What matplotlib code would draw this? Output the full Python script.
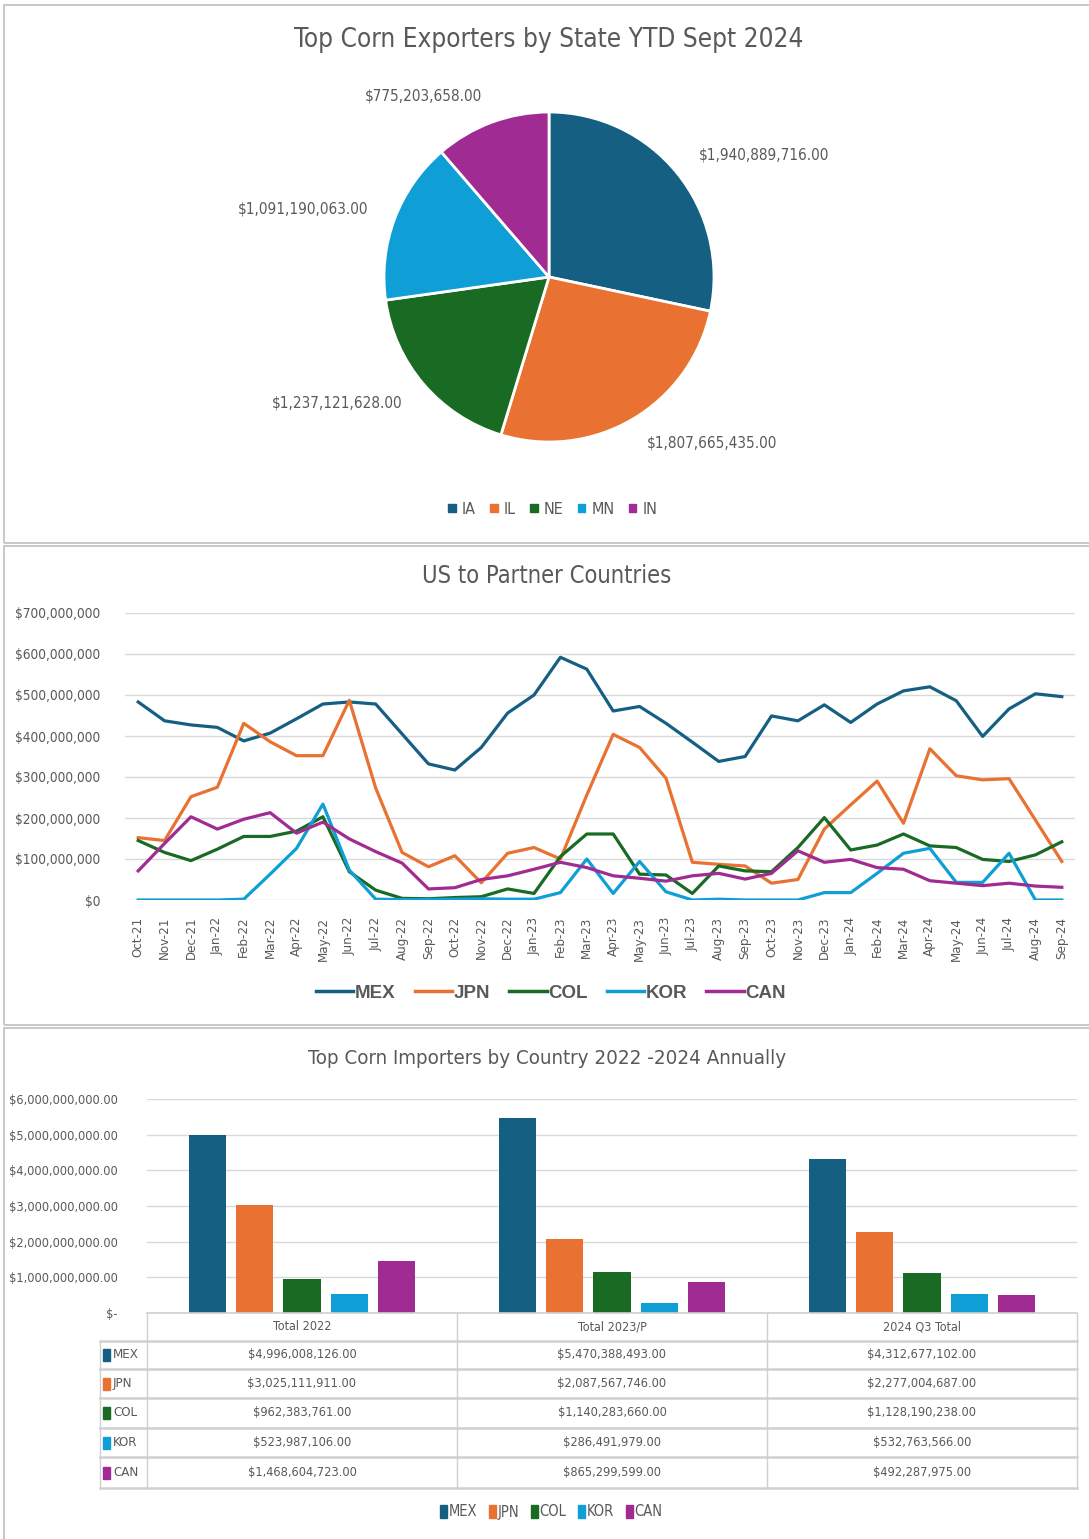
import matplotlib
matplotlib.use('Agg')
import matplotlib.pyplot as plt
import matplotlib.transforms as mtransforms
from matplotlib import font_manager
from matplotlib.patches import Rectangle
from matplotlib.lines import Line2D
from matplotlib.ticker import FuncFormatter

# ------------------------------------------
# dados
# ------------------------------------------
states = ['IA', 'IL', 'NE', 'MN', 'IN']
state_exports = [1940889716.00, 1807665435.00, 1237121628.00, 1091190063.00, 775203658.00]

months = ['Oct-21', 'Nov-21', 'Dec-21', 'Jan-22', 'Feb-22', 'Mar-22', 'Apr-22', 'May-22',
          'Jun-22', 'Jul-22', 'Aug-22', 'Sep-22', 'Oct-22', 'Nov-22', 'Dec-22', 'Jan-23',
          'Feb-23', 'Mar-23', 'Apr-23', 'May-23', 'Jun-23', 'Jul-23', 'Aug-23', 'Sep-23',
          'Oct-23', 'Nov-23', 'Dec-23', 'Jan-24', 'Feb-24', 'Mar-24', 'Apr-24', 'May-24',
          'Jun-24', 'Jul-24', 'Aug-24', 'Sep-24']
# milhoes de dolares
mex = [483, 437, 427, 421, 388, 407, 442, 478, 483, 478, 405, 332, 317, 372, 456, 500,
       592, 563, 461, 472, 431, 385, 338, 350, 449, 437, 476, 433, 478, 510, 520, 486,
       399, 466, 503, 496]
jpn = [152, 145, 252, 275, 431, 386, 352, 352, 487, 273, 116, 81, 108, 42, 114, 128,
       100, 256, 404, 372, 297, 92, 87, 83, 41, 50, 173, 232, 290, 187, 369, 303,
       293, 296, 195, 94]
col = [145, 116, 96, 124, 155, 155, 168, 203, 69, 24, 4, 3, 6, 8, 27, 16,
       106, 161, 161, 63, 61, 16, 83, 71, 69, 128, 201, 122, 134, 161, 132, 128,
       99, 94, 110, 142]
kor = [0, 0, 0, 0, 2, 63, 126, 234, 73, 2, 1, 1, 2, 3, 2, 2,
       18, 100, 16, 94, 20, 0, 2, 0, 0, 0, 18, 18, 65, 114, 126, 43,
       43, 114, 0, 0]
can = [71, 138, 203, 173, 197, 213, 163, 190, 149, 118, 90, 27, 30, 50, 59, 75,
       92, 79, 59, 53, 46, 59, 65, 51, 65, 120, 92, 99, 79, 75, 47, 41,
       35, 41, 34, 31]

countries = ['MEX', 'JPN', 'COL', 'KOR', 'CAN']
periods = ['Total 2022', 'Total 2023/P', '2024 Q3 Total']
imports_2022 = [4996008126.00, 3025111911.00, 962383761.00, 523987106.00, 1468604723.00]
imports_2023 = [5470388493.00, 2087567746.00, 1140283660.00, 286491979.00, 865299599.00]
imports_2024 = [4312677102.00, 2277004687.00, 1128190238.00, 532763566.00, 492287975.00]

# ------------------------------------------
# estilo
# ------------------------------------------
cores = ['#156082', '#E97132', '#196B24', '#0F9ED5', '#A02B93']
CINZA = '#595959'
GRADE = '#D9D9D9'
W, H = 1089, 1539

# fonte estreita (Arial Narrow no original) - usa a condensada se existir
tem_cond = any(f.name == 'DejaVu Sans' and f.stretch == 'condensed'
               for f in font_manager.fontManager.ttflist)
if tem_cond:
    NARROW = ['DejaVu Sans']
    plt.rcParams['font.stretch'] = 'condensed'
    ESC = 1.0
else:
    NARROW = ['Liberation Sans', 'DejaVu Sans']
    ESC = 0.85

plt.rcParams['font.family'] = NARROW
plt.rcParams['text.color'] = CINZA

fig = plt.figure(figsize=(W / 100, H / 100), dpi=100)


def fx(px):
    return px / W


def fy(py):
    return 1 - py / H


# molduras dos paineis
for top, bot in [(5, 543), (546, 1025), (1028, 1545)]:
    fig.add_artist(Rectangle((fx(4), fy(bot)), fx(1100), (bot - top) / H, fill=False,
                             edgecolor='#C4C4C4', linewidth=1.3, transform=fig.transFigure))

# ==========================================
# 1. PIZZA
# ==========================================
ax1 = fig.add_axes([fx(549 - 170), fy(277 + 170), 340 / W, 340 / H])
rotulos = [f"${v:,.2f}" for v in state_exports]
ax1.pie(state_exports, colors=cores, startangle=90, counterclock=False, radius=1,
        labels=rotulos, labeldistance=1.17,
        wedgeprops=dict(edgecolor='white', linewidth=2),
        textprops=dict(color=CINZA, fontsize=11 * ESC))
ax1.set_xlim(-170 / 165, 170 / 165)
ax1.set_ylim(-170 / 165, 170 / 165)
fig.text(fx(549), fy(40), 'Top Corn Exporters by State YTD Sept 2024', ha='center', va='center',
         fontsize=18.8 * ESC, color=CINZA)
h1 = [Rectangle((0, 0), 1, 1, color=c) for c in cores]
fig.legend(h1, states, loc='center', bbox_to_anchor=(fx(553), fy(509)), ncol=5, frameon=False,
           fontsize=11.5 * ESC, handlelength=0.45, handleheight=0.45, handletextpad=0.4,
           columnspacing=0.9, labelcolor=CINZA)

# ==========================================
# 2. LINHAS
# ==========================================
ax2 = fig.add_axes([fx(125), fy(900), 950 / W, 287 / H])
x = range(len(months))
for serie, nome, c in zip([mex, jpn, col, kor, can], countries, cores):
    ax2.plot(x, [v * 1e6 for v in serie], color=c, linewidth=2.3, label=nome)
ax2.set_xlim(-0.5, len(months) - 0.5)
ax2.set_ylim(0, 700e6)
ax2.set_yticks([i * 100e6 for i in range(8)])
ax2.yaxis.set_major_formatter(FuncFormatter(lambda v, p: f"${v:,.0f}"))
ax2.set_xticks(list(x))
ax2.set_xticklabels(months, rotation=90)
ax2.tick_params(axis='y', length=0, pad=18, labelsize=9.8 * ESC, labelcolor=CINZA)
ax2.tick_params(axis='x', length=0, pad=12, labelsize=9.5 * ESC, labelcolor=CINZA)
ax2.grid(axis='y', color=GRADE, linewidth=1)
ax2.set_axisbelow(True)
for s in ax2.spines.values():
    s.set_visible(False)
fig.text(fx(547), fy(576), 'US to Partner Countries', ha='center', va='center',
         fontsize=17 * ESC, color=CINZA)
h2 = [Line2D([0], [0], color=c, linewidth=2.5) for c in cores]
fig.legend(h2, countries, loc='center', bbox_to_anchor=(fx(551), fy(993)), ncol=5, frameon=False,
           prop=dict(family=['Liberation Sans', 'DejaVu Sans'], weight='bold', size=13.5,
                     stretch='normal'),
           handlelength=2.0, handletextpad=0.1, columnspacing=1.0, labelcolor=CINZA)

# ==========================================
# 3. BARRAS + TABELA
# ==========================================
ax3 = fig.add_axes([fx(147), fy(1313), 930 / W, 214 / H])
valores = [imports_2022, imports_2023, imports_2024]
for i, nome in enumerate(countries):
    ax3.bar([k + (i - 2) * 0.153 for k in range(len(periods))], [v[i] for v in valores],
            width=0.12, color=cores[i], label=nome)
ax3.set_xlim(-0.5, len(periods) - 0.5)
ax3.set_ylim(0, 6e9)
ax3.set_yticks([i * 1e9 for i in range(7)])
ax3.yaxis.set_major_formatter(FuncFormatter(lambda v, p: "$-" if v == 0 else f"${v:,.2f}"))
ax3.tick_params(axis='y', length=0, pad=21, labelsize=9.2 * ESC, labelcolor=CINZA)
ax3.set_xticks([])
ax3.grid(axis='y', color=GRADE, linewidth=1)
ax3.set_axisbelow(True)
for s in ax3.spines.values():
    s.set_visible(False)
fig.text(fx(547), fy(1059), 'Top Corn Importers by Country 2022 -2024 Annually', ha='center',
         va='center', fontsize=14.7 * ESC, color=CINZA)

# tabela de dados
blend = mtransforms.blended_transform_factory(ax3.transData, fig.transFigure)
linhas_y = [1341, 1369, 1398, 1428, 1457, 1488]
cor_tab = '#D0D0D0'
fig.add_artist(Line2D([fx(147), fx(1077)], [fy(1313), fy(1313)], color=cor_tab, lw=1.2,
                      transform=fig.transFigure))
for yl in linhas_y:
    fig.add_artist(Line2D([fx(100), fx(1077)], [fy(yl), fy(yl)], color=cor_tab, lw=1.8,
                          transform=fig.transFigure))
for xl in [147, 457, 767, 1077]:
    fig.add_artist(Line2D([fx(xl), fx(xl)], [fy(1313), fy(1488)], color=cor_tab, lw=1,
                          transform=fig.transFigure))
fig.add_artist(Line2D([fx(100), fx(100)], [fy(1341), fy(1488)], color=cor_tab, lw=1,
                      transform=fig.transFigure))
for k, p in enumerate(periods):
    fig.text(k, fy(1327), p, transform=blend, ha='center', va='center', fontsize=9 * ESC,
             color=CINZA)
for i, nome in enumerate(countries):
    yc = (linhas_y[i] + linhas_y[i + 1]) / 2
    fig.add_artist(Rectangle((fx(103), fy(yc + 6)), 7 / W, 12 / H, color=cores[i],
                             transform=fig.transFigure))
    fig.text(fx(113), fy(yc), nome, ha='left', va='center', fontsize=9.5 * ESC, color=CINZA)
    for k in range(len(periods)):
        fig.text(k, fy(yc), f"${valores[k][i]:,.2f}", transform=blend, ha='center', va='center',
                 fontsize=9.2 * ESC, color=CINZA)

h3 = [Rectangle((0, 0), 1, 1, color=c) for c in cores]
fig.legend(h3, countries, loc='center', bbox_to_anchor=(fx(551), fy(1512)), ncol=5, frameon=False,
           fontsize=10.5 * ESC, handlelength=0.5, handleheight=0.9, handletextpad=0.1,
           columnspacing=0.8, labelcolor=CINZA)

fig.savefig('out.png', dpi=100, facecolor='white')
